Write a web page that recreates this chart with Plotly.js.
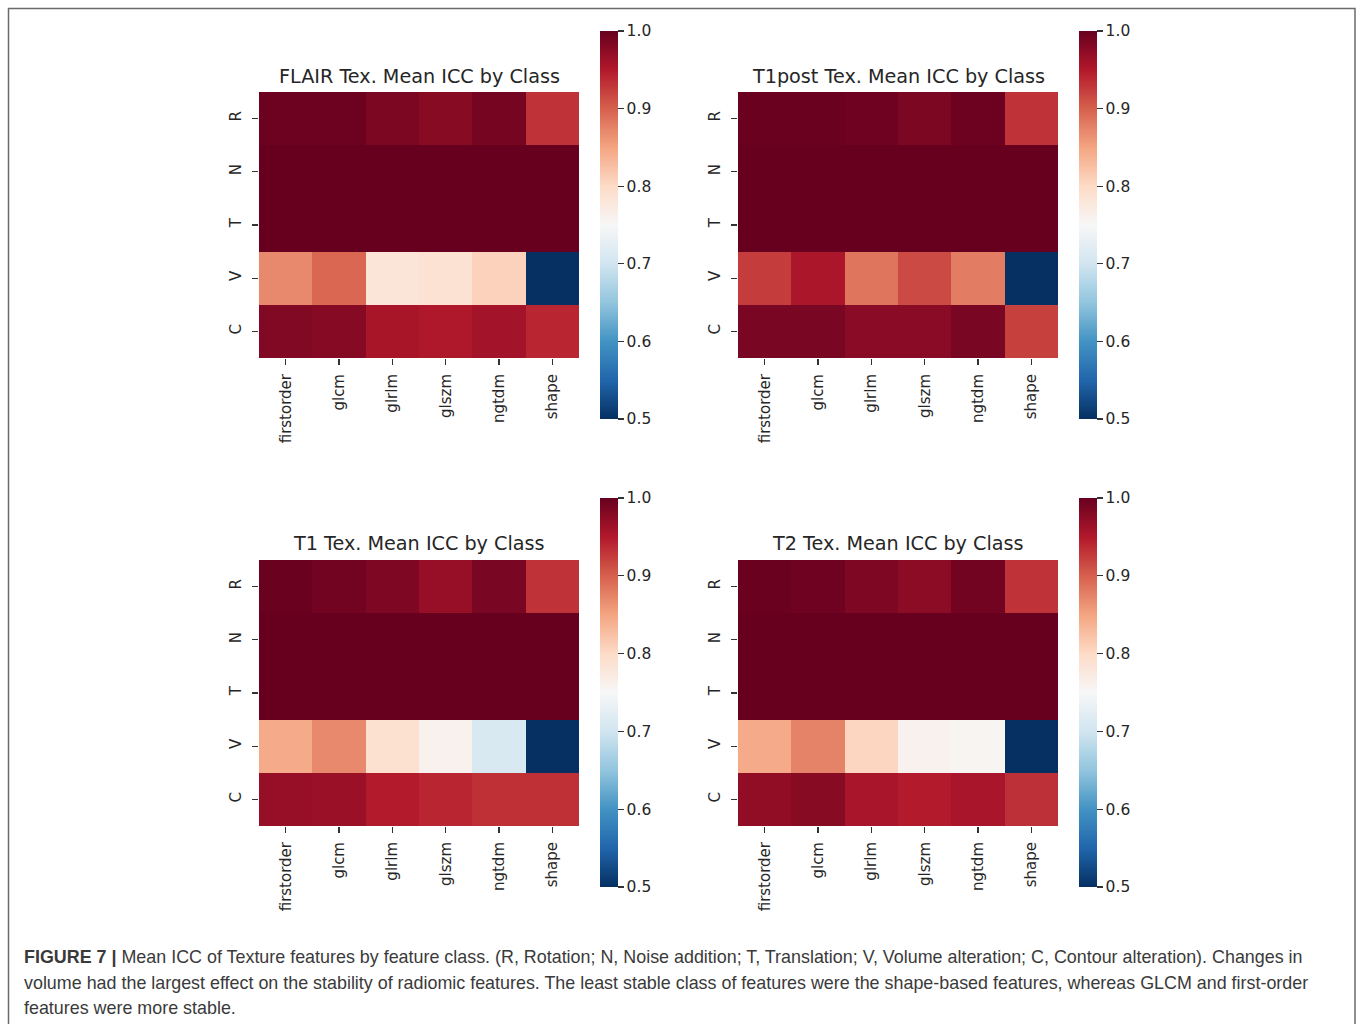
<!DOCTYPE html>
<html>
<head>
<meta charset="utf-8">
<script src="https://cdn.plot.ly/plotly-3.0.1.min.js"></script>
<style>html,body{margin:0;padding:0;background:#fff;}#chart{width:1360px;height:1024px;}</style>
</head>
<body>
<div id="chart"></div>
<script>
// ---- data ----
var featureClasses = ['firstorder', 'glcm', 'glrlm', 'glszm', 'ngtdm', 'shape'];
var perturbations = ['R', 'N', 'T', 'V', 'C'];
var panelTitles = ['FLAIR Tex. Mean ICC by Class', 'T1post Tex. Mean ICC by Class',
                   'T1 Tex. Mean ICC by Class', 'T2 Tex. Mean ICC by Class'];
var colorbarTicks = [0.5, 0.6, 0.7, 0.8, 0.9, 1.0];

var flairICC = [
  [0.997, 0.997, 0.986, 0.978, 0.990, 0.932],
  [1.000, 1.000, 1.000, 1.000, 1.000, 1.000],
  [1.000, 1.000, 1.000, 1.000, 1.000, 1.000],
  [0.870, 0.895, 0.782, 0.788, 0.808, 0.500],
  [0.982, 0.979, 0.957, 0.952, 0.960, 0.940]
];
var t1postICC = [
  [0.998, 0.998, 0.995, 0.986, 0.997, 0.932],
  [1.000, 1.000, 1.000, 1.000, 1.000, 1.000],
  [1.000, 1.000, 1.000, 1.000, 1.000, 1.000],
  [0.925, 0.955, 0.885, 0.915, 0.880, 0.500],
  [0.988, 0.988, 0.977, 0.977, 0.988, 0.922]
];
var t1ICC = [
  [0.998, 0.992, 0.985, 0.968, 0.988, 0.932],
  [1.000, 1.000, 1.000, 1.000, 1.000, 1.000],
  [1.000, 1.000, 1.000, 1.000, 1.000, 1.000],
  [0.845, 0.870, 0.790, 0.760, 0.710, 0.500],
  [0.968, 0.966, 0.948, 0.940, 0.934, 0.934]
];
var t2ICC = [
  [0.998, 0.995, 0.985, 0.975, 0.993, 0.932],
  [1.000, 1.000, 1.000, 1.000, 1.000, 1.000],
  [1.000, 1.000, 1.000, 1.000, 1.000, 1.000],
  [0.845, 0.875, 0.805, 0.760, 0.755, 0.500],
  [0.972, 0.978, 0.956, 0.948, 0.956, 0.933]
];
var captionLines = [
  '<b>FIGURE 7 |</b> Mean ICC of Texture features by feature class. (R, Rotation; N, Noise addition; T, Translation; V, Volume alteration; C, Contour alteration). Changes in',
  'volume had the largest effect on the stability of radiomic features. The least stable class of features were the shape-based features, whereas GLCM and first-order',
  'features were more stable.'
];

// ---- styling / layout ----
var W = 1360, H = 1024;
var rdbuR = [
  [0.0, '#053061'], [0.1, '#2166ac'], [0.2, '#4393c3'], [0.3, '#92c5de'],
  [0.4, '#d1e5f0'], [0.5, '#f7f7f7'], [0.6, '#fddbc7'], [0.7, '#f4a582'],
  [0.8, '#d6604d'], [0.9, '#b2182b'], [1.0, '#67001f']
];
var panelData = [flairICC, t1postICC, t1ICC, t2ICC];
var boxes = [
  {x0: 259, x1: 579, y0: 92, y1: 358, cbx: 600, cby: 31, cblen: 388, ty: 76},
  {x0: 738, x1: 1058, y0: 92, y1: 358, cbx: 1079, cby: 31, cblen: 388, ty: 76},
  {x0: 259, x1: 579, y0: 560, y1: 826, cbx: 600, cby: 498, cblen: 389, ty: 543},
  {x0: 738, x1: 1058, y0: 560, y1: 826, cbx: 1079, cby: 498, cblen: 389, ty: 543}
];
var textColor = '#262626';
var tickFont = {family: 'DejaVu Sans', size: 15, color: textColor};

var traces = [];
var layout = {
  width: W, height: H,
  margin: {l: 0, r: 0, t: 0, b: 0},
  paper_bgcolor: '#ffffff', plot_bgcolor: '#ffffff',
  showlegend: false,
  annotations: [],
  shapes: [{
    type: 'rect', xref: 'paper', yref: 'paper',
    x0: 8.5 / W, x1: 1355 / W, y0: 1 - 1040 / H, y1: 1 - 8.5 / H,
    line: {color: '#6a6a6a', width: 1.5}, fillcolor: 'rgba(0,0,0,0)'
  }]
};

panelData.forEach(function (z, i) {
  var b = boxes[i];
  var n = i + 1;
  var sfx = (n === 1 ? '' : String(n));
  traces.push({
    type: 'heatmap',
    x: featureClasses, y: perturbations, z: z,
    xaxis: 'x' + sfx, yaxis: 'y' + sfx,
    zmin: 0.5, zmax: 1.0, colorscale: rdbuR, xgap: 0, ygap: 0,
    hoverinfo: 'x+y+z',
    colorbar: {
      x: b.cbx / W, xanchor: 'left', xref: 'paper',
      y: 1 - b.cby / H, yanchor: 'top', yref: 'paper',
      len: b.cblen, lenmode: 'pixels', thickness: 18, thicknessmode: 'pixels',
      xpad: 0, ypad: 0, outlinewidth: 0,
      ticks: 'outside', ticklen: 6, tickwidth: 1.2, tickcolor: '#333',
      tickvals: colorbarTicks, tickformat: '.1f', ticklabelstandoff: 2,
      tickfont: {family: 'DejaVu Sans', size: 15.5, color: textColor}
    }
  });
  layout['xaxis' + sfx] = {
    domain: [b.x0 / W, b.x1 / W],
    anchor: 'y' + sfx,
    type: 'category', categoryarray: featureClasses,
    showgrid: false, zeroline: false, showline: false,
    ticks: 'outside', ticklen: 6, tickwidth: 1.2, tickcolor: '#333',
    tickangle: -90, tickfont: tickFont, ticklabelstandoff: 3,
    fixedrange: true
  };
  layout['yaxis' + sfx] = {
    domain: [1 - b.y1 / H, 1 - b.y0 / H],
    anchor: 'x' + sfx,
    type: 'category', autorange: 'reversed',
    showgrid: false, zeroline: false, showline: false,
    ticks: 'outside', ticklen: 6, tickwidth: 1.2, tickcolor: '#333',
    tickangle: -90, tickfont: tickFont, ticklabelstandoff: 5,
    fixedrange: true
  };
  layout.annotations.push({
    xref: 'paper', yref: 'paper',
    x: (b.x0 + b.x1) / 2 / W, y: 1 - b.ty / H,
    xanchor: 'center', yanchor: 'middle', showarrow: false,
    text: panelTitles[i],
    font: {family: 'DejaVu Sans', size: 19.2, color: textColor}
  });
});

var captionY = [957, 983, 1008];
captionLines.forEach(function (t, k) {
  layout.annotations.push({
    xref: 'paper', yref: 'paper',
    x: 22 / W, y: 1 - captionY[k] / H,
    xanchor: 'left', yanchor: 'middle', showarrow: false, align: 'left',
    text: t,
    font: {family: 'Liberation Sans', size: 17.9, color: '#3a3a3a'}
  });
});

Plotly.newPlot('chart', traces, layout, {displayModeBar: false, staticPlot: true});
</script>
</body>
</html>
